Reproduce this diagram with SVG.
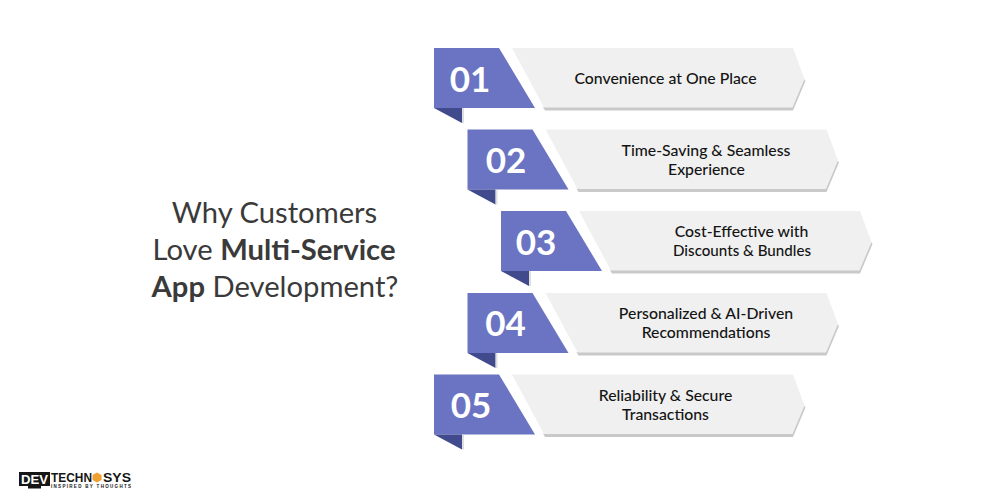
<svg xmlns="http://www.w3.org/2000/svg" width="1000" height="500" viewBox="0 0 1000 500">
<style>
.t{font-family:"Lato","Liberation Sans",sans-serif;fill:#3a3a3a;font-size:29.2px;text-anchor:middle}
.b{font-weight:700}
.l{font-family:"Lato","Liberation Sans",sans-serif;fill:#141414;font-size:15.8px;font-weight:500;text-anchor:middle}
.n{font-family:"Lato","Liberation Sans",sans-serif;fill:#fff;font-size:35px;font-weight:700;text-anchor:middle}
.blue{fill:#6a74c2}.dark{fill:#414a8c}.gray{fill:#f0f0f0}.shadow{fill:#c9c9c9}
.logo{font-family:"Liberation Sans",sans-serif;font-weight:700;fill:#161616}
</style>
<defs>
<g id="tile">
<path class="shadow" d="M543 107H792L804 79 805.500 81 793 110.500H545Z"/>
<path class="gray" d="M512 48H793L804.500 79 792.500 107.500H544Z"/>
<path class="blue" d="M434 48H499L535 108H434Z"/>
<path class="dark" d="M434 108H462V123Z"/>
<path class="shadow" d="M462 108H464V123H462Z" opacity=".6"/>
</g>
</defs>
<g id="title">
<text class="t" x="274.500" y="223">Why Customers</text>
<text class="t" x="274" y="260">Love <tspan class="b">Multi-Service</tspan></text>
<text class="t" x="275" y="297"><tspan class="b">App</tspan> Development?</text>
</g>
<g id="item-1"><use href="#tile"/>
<text class="n" x="470" y="91.500">01</text>
<text class="l" x="665.500" y="84">Convenience at One Place</text></g>
<g id="item-2"><use href="#tile" x="33.500" y="81.500"/>
<text class="n" x="506" y="173">02</text>
<text class="l" x="706" y="156">Time-Saving &amp; Seamless</text>
<text class="l" x="706.500" y="175">Experience</text></g>
<g id="item-3"><use href="#tile" x="67" y="163"/>
<text class="n" x="536" y="254.500">03</text>
<text class="l" x="741.500" y="237">Cost-Effective with</text>
<text class="l" x="742" y="256" textLength="138" lengthAdjust="spacingAndGlyphs">Discounts &amp; Bundles</text></g>
<g id="item-4"><use href="#tile" x="33.500" y="245"/>
<text class="n" x="505.500" y="336">04</text>
<text class="l" x="706" y="319">Personalized &amp; AI-Driven</text>
<text class="l" x="706" y="338">Recommendations</text></g>
<g id="item-5"><use href="#tile" y="326.500"/>
<text class="n" x="471" y="417.500">05</text>
<text class="l" x="665.500" y="401">Reliability &amp; Secure</text>
<text class="l" x="665.500" y="420">Transactions</text></g>
<g id="logo">
<rect x="19" y="472" width="31" height="14" fill="#161616"/>
<path d="M28 486h13v2.500H28z" fill="#161616"/>
<text x="21" y="484" font-family="Liberation Sans,sans-serif" font-size="13" font-weight="700" fill="#fff" textLength="27" lengthAdjust="spacingAndGlyphs">DEV</text>
<text class="logo" x="51" y="481.500" font-size="12" textLength="41" lengthAdjust="spacingAndGlyphs">TECHN</text>
<path d="M97 472.500l4.500 2.500v5l-4.500 2.500-4.500-2.500v-5z" fill="#f0a030"/>
<text class="logo" x="103" y="481.500" font-size="12" textLength="28" lengthAdjust="spacingAndGlyphs">SYS</text>
<text class="logo" x="51" y="488" font-size="4.500" textLength="80" lengthAdjust="spacing">INSPIRED BY THOUGHTS</text>
</g>
</svg>
